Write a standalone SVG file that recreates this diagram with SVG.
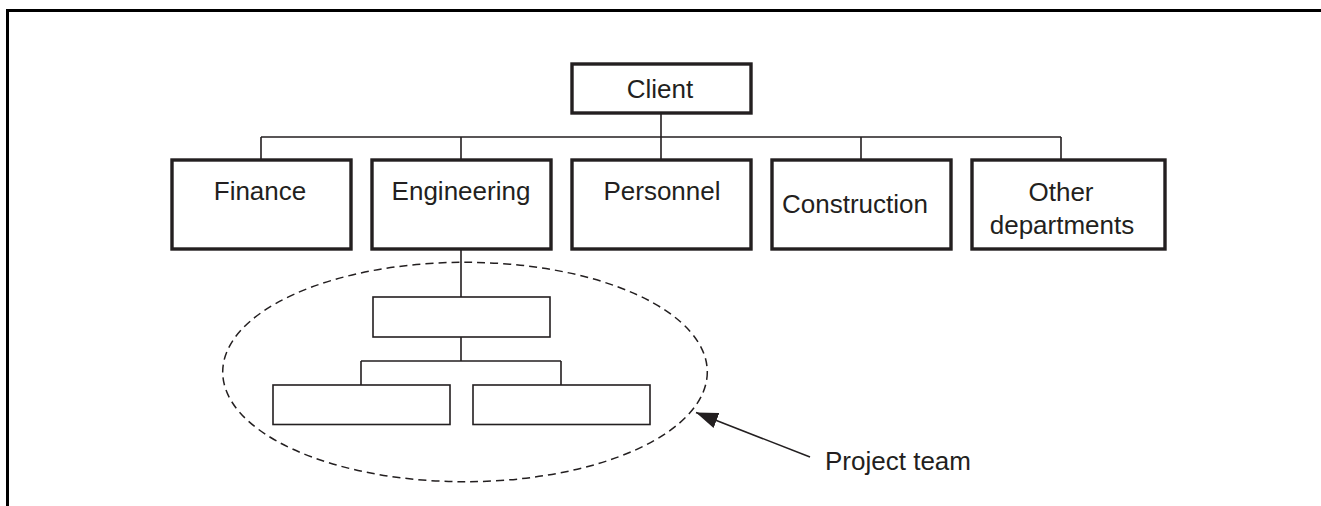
<svg xmlns="http://www.w3.org/2000/svg" width="1321" height="506" viewBox="0 0 1321 506">
<style>
.frame{fill:none;stroke:#000;stroke-width:3}
.box{fill:#fff;stroke:#231f20;stroke-width:3.4}
.sub{fill:#fff;stroke:#231f20;stroke-width:1.6}
.ln{fill:none;stroke:#231f20;stroke-width:1.6}
.dash{fill:none;stroke:#231f20;stroke-width:1.5;stroke-dasharray:8 5}
text{font-family:"Liberation Sans",Arial,sans-serif;font-size:26px;fill:#231f20;text-anchor:middle}
</style>
<defs>
<marker id="ah" viewBox="0 0 22 16" refX="22" refY="8" markerWidth="22" markerHeight="16" markerUnits="userSpaceOnUse" orient="auto">
<path d="M0,0 L22,8 L0,16 z" fill="#231f20"/>
</marker>
</defs>
<rect width="1321" height="506" fill="#fff"/>
<path class="frame" d="M7.5,506 V10.5 H1321"/>
<g id="connectors">
<path class="ln" d="M661,113 V137 M261,137 H1061 M261,137 V160 M461,137 V160 M661,137 V160 M861,137 V160 M1061,137 V160"/>
<path class="ln" d="M461,249 V297 M461,337 V361 M361,361 H561 M361,361 V385 M561,361 V385"/>
<line class="ln" x1="810" y1="457" x2="696" y2="412.5" marker-end="url(#ah)"/>
</g>
<g id="client"><rect class="box" x="572" y="64" width="179" height="49"/><text x="660" y="98">Client</text></g>
<g id="finance"><rect class="box" x="172" y="160" width="179" height="89"/><text x="260" y="200">Finance</text></g>
<g id="engineering"><rect class="box" x="372" y="160" width="179" height="89"/><text x="461" y="200">Engineering</text></g>
<g id="personnel"><rect class="box" x="572" y="160" width="179" height="89"/><text x="662" y="200">Personnel</text></g>
<g id="construction"><rect class="box" x="772" y="160" width="179" height="89"/><text x="855" y="213">Construction</text></g>
<g id="other"><rect class="box" x="972" y="160" width="193" height="89"/><text x="1061" y="201">Other</text><text x="1062" y="234">departments</text></g>
<g id="project-team">
<ellipse class="dash" cx="465" cy="372" rx="242.3" ry="109.7"/>
<rect class="sub" x="373" y="297" width="177" height="40"/>
<rect class="sub" x="273" y="385" width="177" height="39.5"/>
<rect class="sub" x="473" y="385" width="177" height="39.5"/>
</g>
<g id="project-team-label"><text x="898" y="470">Project team</text></g>
</svg>
